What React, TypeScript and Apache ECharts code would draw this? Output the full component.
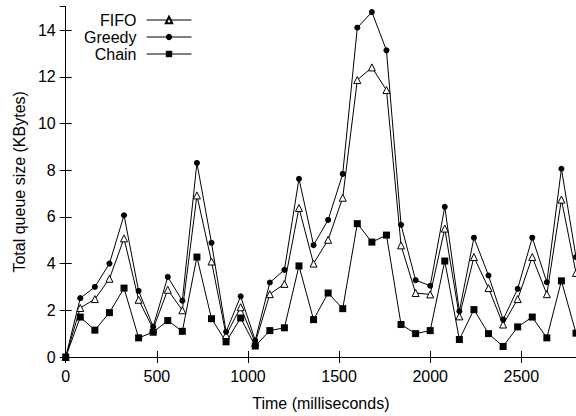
import React, { useEffect, useRef } from "react";
import * as echarts from "echarts";

const times = [0, 80, 160, 240, 320, 400, 480, 560, 640, 720, 800, 880, 960, 1040, 1120, 1200, 1280, 1360, 1440, 1520, 1600, 1680, 1760, 1840, 1920, 2000, 2080, 2160, 2240, 2320, 2400, 2480, 2560, 2640, 2720, 2800];
const fifo = [0, 2.10, 2.48, 3.35, 5.08, 2.45, 1.2, 2.88, 2.0, 6.92, 4.09, 0.94, 2.13, 0.61, 2.69, 3.13, 6.38, 4.0, 5.02, 6.82, 11.86, 12.4, 11.43, 4.78, 2.74, 2.68, 5.5, 1.74, 4.28, 2.95, 1.39, 2.48, 4.28, 2.69, 6.74, 3.6];
const greedy = [0, 2.52, 3.0, 4.0, 6.07, 2.83, 1.3, 3.43, 2.41, 8.31, 4.89, 1.08, 2.6, 0.71, 3.19, 3.73, 7.63, 4.79, 5.87, 7.84, 14.1, 14.77, 13.13, 5.66, 3.29, 3.05, 6.43, 1.96, 5.11, 3.49, 1.6, 2.92, 5.11, 3.2, 8.06, 4.28];
const chain = [0, 1.71, 1.15, 1.9, 2.95, 0.82, 1.06, 1.56, 1.1, 4.28, 1.64, 0.65, 1.67, 0.47, 1.13, 1.25, 3.9, 1.6, 2.74, 2.07, 5.71, 4.92, 5.22, 1.39, 1.0, 1.13, 4.11, 0.75, 2.03, 1.0, 0.45, 1.29, 1.71, 0.82, 3.26, 1.02];
const seriesNames = ["FIFO", "Greedy", "Chain"];
const xTitle = "Time (milliseconds)";
const yTitle = "Total queue size (KBytes)";

const FONT = "'Liberation Sans', Arial, Helvetica, sans-serif";

export default function App() {
  const ref = useRef<HTMLDivElement>(null);
  useEffect(() => {
    if (!ref.current) return;
    const chart = echarts.init(ref.current, undefined, { renderer: "svg" });
    const pair = (arr: number[]) => times.map((t, i) => [t, arr[i]]);
    const axisLine = { show: true, lineStyle: { color: "#000", width: 1 } };
    const tick = { show: true, inside: true, length: 6, lineStyle: { color: "#000" } };
    const plain = (v: number) => String(v);
    const legendBase = (name: string, top: number) => ({
      data: [name],
      right: 384,
      top,
      align: "right",
      orient: "horizontal",
      itemWidth: 45,
      itemHeight: 8,
      padding: 0,
      selectedMode: false,
      lineStyle: { width: 1 },
      textStyle: { fontSize: 16, fontFamily: FONT, color: "#000", padding: [0, 5, 0, 0] },
    });
    chart.setOption({
      animation: false,
      backgroundColor: "#fff",
      grid: { left: 65.7, right: 0, top: 6.7, bottom: 56.7, containLabel: false },
      legend: [legendBase(seriesNames[0], 12), legendBase(seriesNames[1], 29), legendBase(seriesNames[2], 46)],
      xAxis: [
        {
          type: "value", min: 0, max: 2800, interval: 500, position: "bottom",
          axisLine, axisTick: tick, splitLine: { show: false },
          axisLabel: { fontSize: 16, fontFamily: FONT, color: "#000", margin: 11, showMaxLabel: false, formatter: plain },
          name: xTitle, nameLocation: "middle", nameGap: 38,
          nameTextStyle: { fontSize: 16, fontFamily: FONT, color: "#000" },
        },
        {
          type: "value", min: 0, max: 2800, interval: 500, position: "top",
          axisLine, axisTick: tick, splitLine: { show: false }, axisLabel: { show: false },
        },
      ],
      yAxis: [
        {
          type: "value", min: 0, max: 15, interval: 2, position: "left",
          axisLine, axisTick: tick, splitLine: { show: false },
          axisLabel: { fontSize: 16, fontFamily: FONT, color: "#000", margin: 10, showMaxLabel: false, formatter: plain },
          name: yTitle, nameLocation: "middle", nameGap: 36,
          nameTextStyle: { fontSize: 16, fontFamily: FONT, color: "#000" },
        },
        {
          type: "value", min: 0, max: 15, interval: 2, position: "right",
          axisLine, axisTick: tick, splitLine: { show: false }, axisLabel: { show: false },
        },
      ],
      series: [
        {
          name: seriesNames[0], type: "line", data: pair(fifo), symbol: "triangle", symbolSize: 7,
          lineStyle: { color: "#000", width: 1 },
          itemStyle: { color: "#fff", borderColor: "#000", borderWidth: 1 },
        },
        {
          name: seriesNames[1], type: "line", data: pair(greedy), symbol: "circle", symbolSize: 6,
          lineStyle: { color: "#000", width: 1 },
          itemStyle: { color: "#000", borderColor: "#000", borderWidth: 0 },
        },
        {
          name: seriesNames[2], type: "line", data: pair(chain), symbol: "rect", symbolSize: 7,
          lineStyle: { color: "#000", width: 1 },
          itemStyle: { color: "#000", borderColor: "#000", borderWidth: 0 },
        },
      ],
    });
    return () => chart.dispose();
  }, []);
  return (
    <div
      ref={ref}
      style={{ position: "fixed", left: 0, top: 0, width: 576, height: 416, background: "#fff" }}
    />
  );
}
